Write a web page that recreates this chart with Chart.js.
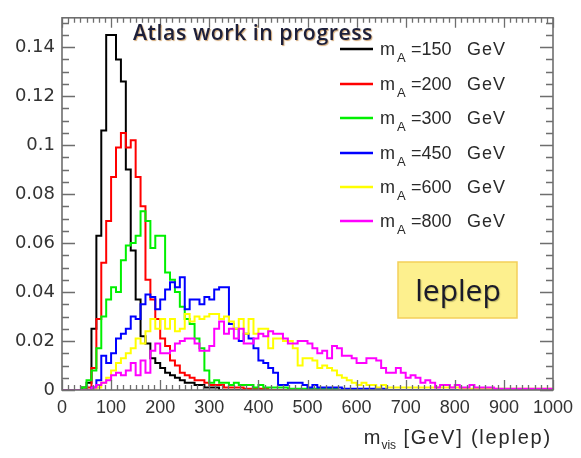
<!DOCTYPE html>
<html><head><meta charset="utf-8">
<script src="https://cdn.jsdelivr.net/npm/chart.js@4/dist/chart.umd.min.js"></script>
<style>html,body{margin:0;padding:0;background:#fff;}#wrap{width:581px;height:458px;position:relative;}</style>
</head><body><div id="wrap"><canvas id="c" width="581" height="458"></canvas></div>
<script>
// ---- data ----
const binWidth = 10; // GeV per bin, 100 bins from 0 to 1000 GeV
const massLabels = ['150','200','300','450','600','800'];
const h150 = [0,0,0,0,0.001,0.003,0.025,0.063,0.106,0.145,
  0.145,0.135,0.126,0.090,0.057,0.037,0.022,0.019,0.013,0.011,
  0.009,0.007,0.006,0.005,0.004,0.003,0.003,0.002,0.002,0.001,
  0.001,0.001,0,0,0,0,0,0,0,0, 0,0,0,0,0,0,0,0,0,0,
  0,0,0,0,0,0,0,0,0,0, 0,0,0,0,0,0,0,0,0,0,
  0,0,0,0,0,0,0,0,0,0, 0,0,0,0,0,0,0,0,0,0, 0,0,0,0,0,0,0,0,0,0];
const h200 = [0,0,0,0,0,0.001,0.009,0.029,0.052,0.069,
  0.087,0.099,0.105,0.099,0.102,0.087,0.075,0.045,0.037,0.029,
  0.021,0.018,0.012,0.010,0.007,0.006,0.005,0.004,0.004,0.003,
  0.002,0.002,0.002,0.001,0.001,0.001,0.001,0.0005,0.0005,0.0005,
  0.0005,0.0005,0,0,0,0,0,0,0,0, 0,0,0,0,0,0,0,0,0,0,
  0,0,0,0,0,0,0,0,0,0, 0,0,0,0,0,0,0,0,0,0, 0,0,0,0,0,0,0,0,0,0, 0,0,0,0,0,0,0,0];
const h300 = [0,0,0,0,0.001,0.004,0.008,0.017,0.030,0.037,
  0.042,0.040,0.053,0.059,0.060,0.063,0.073,0.069,0.058,0.063,
  0.063,0.048,0.045,0.040,0.034,0.029,0.027,0.021,0.017,0.008,
  0.003,0.004,0.003,0.003,0.002,0.003,0.002,0.002,0.002,0.001,
  0.002,0.001,0.001,0.001,0.001,0.001,0.0005,0.0005,0.0005,0.0005,
  0.0005,0.0005,0.0005,0.0005,0.0005,0.0005,0,0,0,0,
  0,0,0,0,0,0,0,0,0,0, 0,0,0,0,0,0,0,0,0,0, 0,0,0,0,0,0,0,0,0,0, 0,0,0,0,0,0,0,0,0,0];
const h450 = [0,0,0,0,0,0,0.001,0.004,0.014,0.011,
  0.015,0.021,0.023,0.025,0.030,0.029,0.035,0.039,0.038,0.033,
  0.037,0.041,0.044,0.042,0.046,0.033,0.037,0.037,0.035,0.038,
  0.037,0.041,0.042,0.042,0.027,0.025,0.020,0.023,0.021,0.017,
  0.012,0.011,0.009,0.007,0.002,0.002,0.003,0.003,0.003,0.002,
  0.001,0.002,0.001,0.001,0.001,0.001,0.001,0.0005,0.0005,0.0005,
  0.0005,0.0005,0.0005,0.0005,0.0005,0.0005,0,0,0,0,
  0,0,0,0,0,0,0,0,0,0, 0,0,0,0,0,0,0,0,0,0, 0,0,0,0,0,0,0,0,0,0];
const h600 = [0,0,0,0,0,0,0,0.001,0.003,0.005,
  0.008,0.011,0.013,0.015,0.017,0.021,0.019,0.024,0.029,0.025,
  0.029,0.025,0.029,0.024,0.025,0.031,0.028,0.030,0.029,0.030,
  0.031,0.031,0.029,0.030,0.028,0.025,0.029,0.023,0.029,0.023,
  0.025,0.025,0.017,0.021,0.021,0.020,0.020,0.017,0.010,0.013,
  0.013,0.012,0.009,0.010,0.009,0.008,0.006,0.005,0.004,0.003,
  0.002,0.003,0.002,0.002,0.001,0.002,0.001,0.001,0.001,0.001,
  0.001,0.001,0.001,0.001,0.001,0.001,0.001,0.001,0.001,0.001,
  0.001,0.0005,0.0005,0.0005,0.0005,0.0005,0.0005,0.0005,0.0005,0.0005,
  0.0005,0.0005,0.0005,0.0005,0.0005,0.0005,0.0005,0.0005,0.0005,0.0005];
const h800 = [0,0,0,0,0,0,0.001,0.002,0.003,0.004,
  0.006,0.007,0.006,0.008,0.011,0.006,0.012,0.007,0.016,0.019,
  0.015,0.015,0.016,0.019,0.020,0.021,0.021,0.019,0.016,0.016,
  0.018,0.025,0.028,0.023,0.025,0.021,0.025,0.019,0.019,0.021,
  0.023,0.022,0.024,0.023,0.023,0.021,0.019,0.019,0.020,0.020,
  0.019,0.017,0.015,0.016,0.013,0.018,0.017,0.014,0.014,0.013,
  0.011,0.011,0.013,0.013,0.012,0.009,0.007,0.007,0.009,0.007,
  0.005,0.006,0.005,0.003,0.004,0.003,0.001,0.002,0.002,0.001,
  0.002,0.001,0.001,0.002,0.001,0.001,0.001,0.001,0.0005,0.0005,
  0.0005,0.0005,0.0005,0.0005,0.0005,0.0005,0.0005,0.0005,0.0005,0.0005];
const xTickValues = [0,100,200,300,400,500,600,700,800,900,1000];
const xTickLabels = ['0','100','200','300','400','500','600','700','800','900','1000'];
const yTickValues = [0,0.02,0.04,0.06,0.08,0.1,0.12,0.14];
const yTickLabels = ['0','0.02','0.04','0.06','0.08','0.1','0.12','0.14'];
const xMin = 0, xMax = 1000, yMin = 0, yMax = 0.152;
const xMinorStep = 12.5, yMinorStep = 0.005;
const atlasLabel = 'Atlas work in progress';
const channelLabel = 'leplep';
const xTitleMain = 'm', xTitleSub = 'vis', xTitleRest = ' [GeV] (leplep)';
const legendMain = 'm', legendSub = 'A', legendUnit = 'GeV';

// ---- styles ----
const seriesColors = ['#000000','#ff0000','#00f000','#0000ff','#ffff00','#ff00ff'];
const allSeries = [h150,h200,h300,h450,h600,h800];

function histPoints(h){
  const pts = h.map((v,i)=>({x:i*binWidth, y:v}));
  pts.push({x:h.length*binWidth, y:h[h.length-1]});
  return pts;
}

const datasets = allSeries.map((h,k)=>({
  label: massLabels[k],
  data: histPoints(h),
  borderColor: seriesColors[k],
  borderWidth: 2,
  pointRadius: 0,
  stepped: true,
  fill: false,
  order: allSeries.length - k
}));

const FRAME = '#6e6e6e';
const decor = {
  id:'decor',
  afterDatasetsDraw(chart){
    const ctx = chart.ctx, a = chart.chartArea;
    const xs = chart.scales.x, ys = chart.scales.y;
    ctx.save();
    ctx.strokeStyle = FRAME; ctx.lineWidth = 1.6;
    ctx.strokeRect(a.left, a.top, a.right-a.left, a.bottom-a.top);
    ctx.lineWidth = 1.3;
    ctx.beginPath();
    for (let v = yMin; v <= yMax + 1e-9; v += yMinorStep){
      const y = Math.round(ys.getPixelForValue(v)) + 0.5;
      const major = yTickValues.some(t=>Math.abs(t-v)<1e-6);
      const L = major ? 13 : 7;
      ctx.moveTo(a.left, y); ctx.lineTo(a.left+L, y);
      ctx.moveTo(a.right, y); ctx.lineTo(a.right-L, y);
    }
    for (let v = xMin; v <= xMax + 1e-9; v += xMinorStep){
      const x = Math.round(xs.getPixelForValue(v)) + 0.5;
      const major = xTickValues.some(t=>Math.abs(t-v)<1e-6);
      const L = major ? 10 : 5;
      ctx.moveTo(x, a.bottom); ctx.lineTo(x, a.bottom-L);
      ctx.moveTo(x, a.top); ctx.lineTo(x, a.top+L);
    }
    ctx.stroke();
    ctx.restore();

    // legend
    ctx.save();
    const rowBase = [55, 90, 124, 159, 193, 227];
    allSeries.forEach((h,k)=>{
      const b = rowBase[k];
      ctx.strokeStyle = seriesColors[k]; ctx.lineWidth = 2.5;
      ctx.beginPath(); ctx.moveTo(340, b-6); ctx.lineTo(373, b-6); ctx.stroke();
      ctx.fillStyle = '#2a2a2a';
      ctx.textBaseline = 'alphabetic'; ctx.textAlign = 'left';
      ctx.font = '18px "Liberation Sans"';
      ctx.fillText(legendMain, 380, b);
      ctx.font = '13px "Liberation Sans"';
      ctx.fillText(legendSub, 397, b+7);
      ctx.font = '18px "Liberation Sans"';
      ctx.fillText('=' + massLabels[k], 411, b);
      ctx.letterSpacing = '1px';
      ctx.fillText(legendUnit, 467, b);
      ctx.letterSpacing = '0px';
    });
    ctx.restore();

    // atlas label
    ctx.save();
    ctx.font = '600 22px "Open Sans"';
    ctx.letterSpacing = '0.6px';
    ctx.textAlign = 'left'; ctx.textBaseline = 'alphabetic';
    ctx.shadowColor = 'rgba(190,130,60,0.7)'; ctx.shadowOffsetX = 1; ctx.shadowOffsetY = 1; ctx.shadowBlur = 1;
    ctx.fillStyle = '#1c1f3a';
    ctx.fillText(atlasLabel, 133, 40, 240);
    ctx.restore();

    // channel box
    ctx.save();
    ctx.fillStyle = '#fdf08e';
    ctx.fillRect(398, 262, 119, 56);
    ctx.strokeStyle = '#f3cf5a'; ctx.lineWidth = 1.5;
    ctx.strokeRect(398, 262, 119, 56);
    ctx.font = '500 30px "Open Sans"';
    ctx.textAlign = 'center'; ctx.textBaseline = 'alphabetic';
    ctx.shadowColor = 'rgba(120,120,60,0.5)'; ctx.shadowOffsetX = 1; ctx.shadowOffsetY = 1; ctx.shadowBlur = 1;
    ctx.fillStyle = '#1a1a2a';
    ctx.fillText(channelLabel, 458, 301, 88);
    ctx.restore();

    // x title
    ctx.save();
    ctx.fillStyle = '#2a2a2a'; ctx.textBaseline = 'alphabetic'; ctx.textAlign = 'left';
    ctx.font = '20px "Liberation Sans"'; const w1 = ctx.measureText(xTitleMain).width;
    ctx.letterSpacing = '1.8px';
    const w3 = ctx.measureText(xTitleRest).width;
    ctx.letterSpacing = '0px';
    ctx.font = '12px "Liberation Sans"'; const w2 = ctx.measureText(xTitleSub).width;
    const right = 552, base = 444;
    const x0 = right - w1 - w2 - w3 - 1;
    ctx.font = '20px "Liberation Sans"'; ctx.fillText(xTitleMain, x0, base);
    ctx.font = '12px "Liberation Sans"'; ctx.fillText(xTitleSub, x0 + w1 + 1, base + 5);
    ctx.font = '20px "Liberation Sans"'; ctx.letterSpacing = '1.8px';
    ctx.fillText(xTitleRest, x0 + w1 + w2 + 1, base);
    ctx.restore();
  }
};

new Chart(document.getElementById('c'), {
  type: 'line',
  data: { datasets },
  options: {
    responsive: false,
    animation: false,
    devicePixelRatio: 1,
    layout: { padding: { left: 0, right: 28, top: 10, bottom: 0 } },
    plugins: { legend: { display: false }, tooltip: { enabled: false } },
    elements: { line: { tension: 0 } },
    scales: {
      x: {
        type: 'linear', min: xMin, max: xMax,
        grid: { display: false, drawTicks: false }, border: { display: false },
        afterBuildTicks: s => { s.ticks = xTickValues.map(v=>({value:v})); },
        afterFit: s => { s.height = 68; },
        ticks: { autoSkip: false, maxRotation: 0, padding: 7, color: '#333',
          font: { family: 'Liberation Sans', size: 18 },
          callback: v => xTickLabels[xTickValues.indexOf(v)] }
      },
      y: {
        type: 'linear', min: yMin, max: yMax,
        grid: { display: false, drawTicks: false }, border: { display: false },
        afterBuildTicks: s => { s.ticks = yTickValues.map(v=>({value:v})); },
        afterFit: s => { s.width = 62; },
        ticks: { autoSkip: false, padding: 7, color: '#333',
          font: { family: 'DejaVu Sans', size: 18 },
          callback: v => yTickLabels[yTickValues.indexOf(v)] }
      }
    }
  },
  plugins: [decor]
});
</script></body></html>
